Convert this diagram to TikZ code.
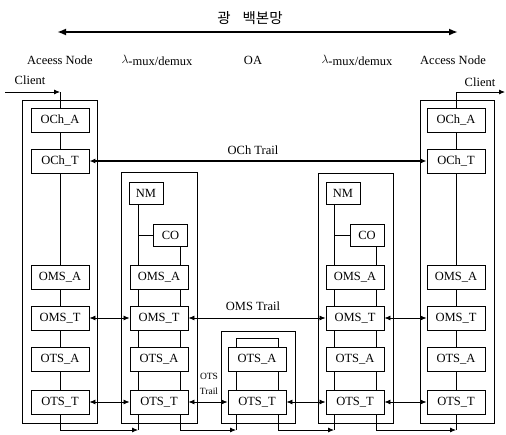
\documentclass[tikz,border=0pt]{standalone}
\usepackage{fontspec}
\setmainfont{Liberation Serif}
\newfontfamily\krfont{Noto Sans CJK KR}
\usepackage{tikz}
\usetikzlibrary{arrows.meta}

\begin{document}
\begin{tikzpicture}[x=1pt,y=-1pt,line width=0.8pt,
    every node/.style={font=\fontsize{12.5}{14}\selectfont},
    blk/.style={draw,line width=0.9pt,minimum width=58pt,minimum height=24pt,inner sep=0pt},
    ctl/.style={draw,line width=0.9pt,minimum width=34pt,minimum height=22pt,inner sep=0pt},
    trail/.style={{Latex[length=6pt,width=5pt]}-{Latex[length=6pt,width=5pt]}},
    flow/.style={-{Latex[length=6pt,width=5pt]}}]
    \useasboundingbox (0,0) rectangle (506,434);

    % backbone header
    \node (bb) at (250,18) {\fontsize{14.5}{16}\krfont 광\hspace{12pt}백본망};
    \coordinate (bbl) at (57,32);
    \coordinate (bbr) at (458,32);
    \draw[{Latex[length=9pt,width=7pt]}-{Latex[length=9pt,width=7pt]},line width=1.8pt] (bbl) -- (bbr);

    \node (hd1) at (60,60) {Aceess Node};
    \node (hd2) at (157,60) {$\lambda$\raisebox{-2pt}{-mux/demux}};
    \node (hd3) at (253,60) {OA};
    \node (hd4) at (357,60) {$\lambda$\raisebox{-2pt}{-mux/demux}};
    \node (hd5) at (453,60) {Access Node};

    % left access node
    \draw (22.5,100) rectangle (97,423);
    \node[blk] (la1) at (60,120) {OCh\_A};
    \node[blk] (lt1) at (60,161) {OCh\_T};
    \node[blk] (lma) at (60,277) {OMS\_A};
    \node[blk] (lmt) at (60,318) {OMS\_T};
    \node[blk] (lsa) at (60,359) {OTS\_A};
    \node[blk] (lst) at (60,402) {OTS\_T};
    \draw (la1) -- (lt1) -- (lma) -- (lmt) -- (lsa) -- (lst);
    \node (clil) at (30,80) {Client};
    \coordinate (cin) at (5,92);
    \coordinate (cinj) at (60,92);
    \draw[flow] (cin) -- (cinj);
    \draw (cinj) -- (la1);

    % first mux/demux
    \draw (121,172) rectangle (197,423);
    \node[ctl] (nm1) at (146,193) {NM};
    \node[ctl] (co1) at (170.5,235) {CO};
    \node[blk] (ma1) at (159,277) {OMS\_A};
    \node[blk] (mt1) at (159,318) {OMS\_T};
    \node[blk] (sa1) at (159,359) {OTS\_A};
    \node[blk] (st1) at (159,402) {OTS\_T};
    \draw ([xshift=-21pt]ma1.north) -- ([xshift=-21pt]ma1.north |- nm1.south);
    \draw ([xshift=-21pt]ma1.north |- co1.west) -- (co1.west);
    \draw ([xshift=21pt]ma1.north) -- ([xshift=21pt]ma1.north |- co1.south);
    \draw ([xshift=-21pt]ma1.south) -- ([xshift=-21pt]mt1.north);
    \draw ([xshift=21pt]ma1.south) -- ([xshift=21pt]mt1.north);
    \draw ([xshift=-21pt]mt1.south) -- ([xshift=-21pt]sa1.north);
    \draw ([xshift=21pt]mt1.south) -- ([xshift=21pt]sa1.north);
    \draw ([xshift=-21pt]sa1.south) -- ([xshift=-21pt]st1.north);
    \draw ([xshift=21pt]sa1.south) -- ([xshift=21pt]st1.north);

    % amplifier
    \draw (221,331) rectangle (295,423);
    \node[blk] (oa) at (257,359) {OTS\_A};
    \node[blk] (ot) at (257,402) {OTS\_T};
    \draw ([xshift=-21pt]oa.north) -- ++(0,-8) -| ([xshift=21pt]oa.north);
    \draw ([xshift=-21pt]oa.south) -- ([xshift=-21pt]ot.north);
    \draw ([xshift=21pt]oa.south) -- ([xshift=21pt]ot.north);

    % second mux/demux
    \draw (318,173) rectangle (393,423);
    \node[ctl] (nm2) at (343,193) {NM};
    \node[ctl] (co2) at (367,235) {CO};
    \node[blk] (ma2) at (355,277) {OMS\_A};
    \node[blk] (mt2) at (355,318) {OMS\_T};
    \node[blk] (sa2) at (355,359) {OTS\_A};
    \node[blk] (st2) at (355,402) {OTS\_T};
    \draw ([xshift=-21pt]ma2.north) -- ([xshift=-21pt]ma2.north |- nm2.south);
    \draw ([xshift=-21pt]ma2.north |- co2.west) -- (co2.west);
    \draw ([xshift=21pt]ma2.north) -- ([xshift=21pt]ma2.north |- co2.south);
    \draw ([xshift=-21pt]ma2.south) -- ([xshift=-21pt]mt2.north);
    \draw ([xshift=21pt]ma2.south) -- ([xshift=21pt]mt2.north);
    \draw ([xshift=-21pt]mt2.south) -- ([xshift=-21pt]sa2.north);
    \draw ([xshift=21pt]mt2.south) -- ([xshift=21pt]sa2.north);
    \draw ([xshift=-21pt]sa2.south) -- ([xshift=-21pt]st2.north);
    \draw ([xshift=21pt]sa2.south) -- ([xshift=21pt]st2.north);

    % right access node
    \draw (420,100) rectangle (494,423);
    \node[blk] (ra1) at (456,120) {OCh\_A};
    \node[blk] (rt1) at (456,161) {OCh\_T};
    \node[blk] (rma) at (456,277) {OMS\_A};
    \node[blk] (rmt) at (456,318) {OMS\_T};
    \node[blk] (rsa) at (456,359) {OTS\_A};
    \node[blk] (rst) at (456,402) {OTS\_T};
    \draw (ra1) -- (rt1) -- (rma) -- (rmt) -- (rsa) -- (rst);
    \node (clir) at (480,82) {Client};
    \coordinate (coutj) at (456,92);
    \coordinate (cout) at (505,92);
    \draw (ra1) -- (coutj);
    \draw[flow] (coutj) -- (cout);

    % trails
    \draw[trail,line width=1.3pt] (lt1) -- (rt1);
    \node (ochtr) at (253,150) {OCh Trail};
    \draw[trail] (lmt) -- (mt1);
    \draw[trail] (mt1) -- (mt2);
    \draw[trail] (mt2) -- (rmt);
    \node (omstr) at (253,306) {OMS Trail};
    \draw[trail] (lst) -- (st1);
    \draw[trail] (st1) -- (ot);
    \draw[trail] (ot) -- (st2);
    \draw[trail] (st2) -- (rst);
    \node[font=\fontsize{9.5}{15}\selectfont,align=center] (otstr) at (209,384) {OTS\\Trail};

    % signal flow below
    \coordinate (b1) at (138,430);
    \coordinate (b2) at (236,430);
    \coordinate (b3) at (334,430);
    \coordinate (b4) at (456,430);
    \draw[flow] (lst.south) |- (b1);
    \draw (b1) -- ([xshift=-21pt]st1.south);
    \draw[flow] ([xshift=21pt]st1.south) |- (b2);
    \draw (b2) -- ([xshift=-21pt]ot.south);
    \draw[flow] ([xshift=21pt]ot.south) |- (b3);
    \draw (b3) -- ([xshift=-21pt]st2.south);
    \draw[flow] ([xshift=21pt]st2.south) |- (b4);
    \draw (b4) -- (rst);
\end{tikzpicture}
\end{document}
